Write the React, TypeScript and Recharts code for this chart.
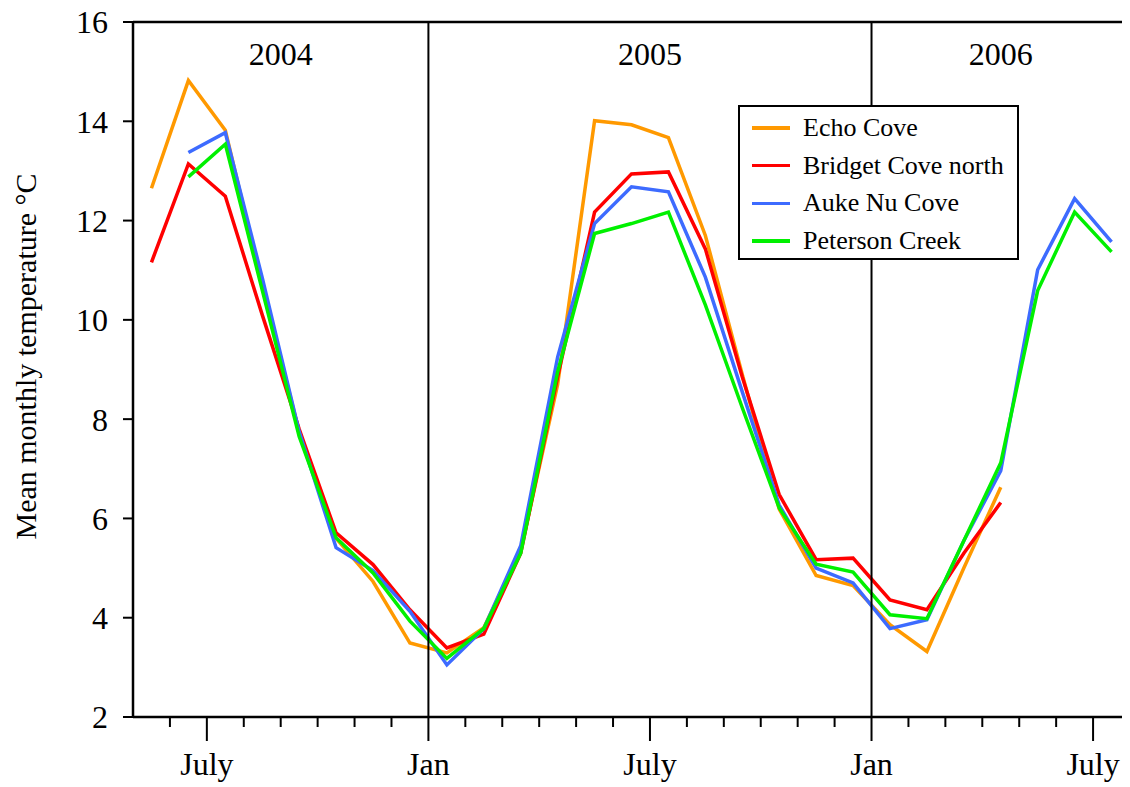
import React from 'react';
import {
  LineChart,
  Line,
  XAxis,
  YAxis,
  ReferenceLine,
  ReferenceArea,
  Legend,
} from 'recharts';

// Monthly means, May 2004 – July 2006 (one value per month, null = no record)
const MONTHS = [
  'May 2004', 'Jun 2004', 'Jul 2004', 'Aug 2004', 'Sep 2004', 'Oct 2004', 'Nov 2004', 'Dec 2004',
  'Jan 2005', 'Feb 2005', 'Mar 2005', 'Apr 2005', 'May 2005', 'Jun 2005', 'Jul 2005', 'Aug 2005',
  'Sep 2005', 'Oct 2005', 'Nov 2005', 'Dec 2005', 'Jan 2006', 'Feb 2006', 'Mar 2006', 'Apr 2006',
  'May 2006', 'Jun 2006', 'Jul 2006',
];

const ECHO_COVE = [
  12.65, 14.82, 13.82, 10.7, 7.75, 5.6, 4.73, 3.49,
  3.29, 3.8, 5.35, 8.7, 14.01, 13.93, 13.67, 11.7,
  8.9, 6.19, 4.85, 4.65, 3.86, 3.32, 5.0, 6.63,
  null, null, null,
];
const BRIDGET_COVE_NORTH = [
  11.16, 13.14, 12.49, 10.1, 7.8, 5.71, 5.07, 4.16,
  3.39, 3.67, 5.3, 8.85, 12.17, 12.94, 12.98, 11.43,
  8.85, 6.48, 5.17, 5.2, 4.36, 4.16, 5.3, 6.32,
  null, null, null,
];
const AUKE_NU_COVE = [
  null, 13.37, 13.77, 10.85, 7.75, 5.41, 4.95, 4.13,
  3.05, 3.78, 5.45, 9.25, 11.94, 12.68, 12.58, 10.86,
  8.55, 6.27, 5.0, 4.7, 3.78, 3.96, 5.55, 6.96,
  11.01, 12.44, 11.57,
];
const PETERSON_CREEK = [
  null, 12.88, 13.54, 10.6, 7.65, 5.61, 4.9, 3.93,
  3.18, 3.78, 5.3, 8.95, 11.74, 11.94, 12.17, 10.3,
  8.23, 6.21, 5.08, 4.92, 4.06, 3.98, 5.55, 7.12,
  10.59, 12.17, 11.37,
];

// Time axis: months counted from 1 Jan 2004; May 2004 starts at 4
const FIRST_MONTH = 4;
const X_DOMAIN: [number, number] = [4, 31];
const MONTH_TICKS = [5, 6, 7, 8, 9, 10, 11, 12, 13, 14, 15, 16, 17, 18, 19, 20, 21, 22, 23, 24, 25, 26, 27, 28, 29, 30];
const MAJOR_TICKS = [6, 12, 18, 24, 30];
const MAJOR_LABELS = ['July', 'Jan', 'July', 'Jan', 'July'];
const YEAR_BOUNDARIES = [12, 24];
const YEAR_LABELS = ['2004', '2005', '2006'];
const YEAR_SPANS: [number, number][] = [[4, 12], [12, 24], [24, 31]];

const Y_TICKS = [2, 4, 6, 8, 10, 12, 14, 16];

const SERIES = [
  { key: 'echo', name: 'Echo Cove', color: '#FF9900', values: ECHO_COVE },
  { key: 'bridget', name: 'Bridget Cove north', color: '#FF0000', values: BRIDGET_COVE_NORTH },
  { key: 'auke', name: 'Auke Nu Cove', color: '#3D6BFF', values: AUKE_NU_COVE },
  { key: 'peterson', name: 'Peterson Creek', color: '#00F000', values: PETERSON_CREEK },
];
const SERIES_ORDER = SERIES.map((s) => s.name);

// Each value is plotted at the middle of its month
const data = MONTHS.map((label, i) => {
  const row: Record<string, number | string | null> = { label, m: FIRST_MONTH + i + 0.5 };
  SERIES.forEach((s) => {
    row[s.key] = s.values[i];
  });
  return row;
});

const FONT = '"Liberation Serif", "Times New Roman", Times, serif';
const WIDTH = 1130;
const HEIGHT = 787;
const MARGIN = { top: 22, right: 0, bottom: 0, left: 8 };
const X_AXIS_HEIGHT = 70;
const PLOT_HEIGHT = HEIGHT - MARGIN.top - MARGIN.bottom - X_AXIS_HEIGHT;

const MonthTick = (props: any) => {
  const { x, y, payload } = props;
  const idx = MAJOR_TICKS.indexOf(payload.value);
  const major = idx >= 0;
  return (
    <g>
      <line x1={x} x2={x} y1={y} y2={y + (major ? 24 : 10)} stroke="#000" strokeWidth={2} />
      {major && (
        <text x={x} y={y + 58} textAnchor="middle" fontSize={32} fontFamily={FONT} fill="#000">
          {MAJOR_LABELS[idx]}
        </text>
      )}
    </g>
  );
};

const TITLE_X = 35.5;
const TITLE_Y = MARGIN.top + PLOT_HEIGHT / 2 - 13;

const YTitle = () => (
  <text
    x={TITLE_X}
    y={TITLE_Y}
    transform={`rotate(-90, ${TITLE_X}, ${TITLE_Y})`}
    textAnchor="middle"
    fontSize={30}
    fontFamily={FONT}
    fill="#000"
  >
    Mean monthly temperature °C
  </text>
);

const LegendBox = (props: any) => {
  const payload = [...(props.payload || [])].sort(
    (a: any, b: any) => SERIES_ORDER.indexOf(a.value) - SERIES_ORDER.indexOf(b.value),
  );
  return (
    <div
      style={{
        width: 281,
        height: 155,
        boxSizing: 'border-box',
        border: '2px solid #000',
        background: '#fff',
        position: 'relative',
        fontFamily: FONT,
        fontSize: 26,
        color: '#000',
      }}
    >
      {payload.map((entry: any, i: number) => (
        <div
          key={entry.value}
          style={{
            position: 'absolute',
            left: 0,
            top: 3 + i * 37.7,
            height: 36,
            display: 'flex',
            alignItems: 'center',
            whiteSpace: 'nowrap',
          }}
        >
          <span
            style={{
              display: 'inline-block',
              marginLeft: 12,
              width: 38,
              height: 3.5,
              background: entry.color,
            }}
          />
          <span style={{ marginLeft: 13, lineHeight: '36px' }}>{entry.value}</span>
        </div>
      ))}
    </div>
  );
};

export default function App() {
  return (
    <div style={{ margin: '-8px 0 0 -8px', width: WIDTH, height: HEIGHT }}>
      <LineChart width={WIDTH} height={HEIGHT} data={data} margin={MARGIN}>
        <XAxis
          dataKey="m"
          type="number"
          domain={X_DOMAIN}
          ticks={MONTH_TICKS}
          interval={0}
          height={X_AXIS_HEIGHT}
          tickSize={0}
          tickMargin={0}
          tickLine={false}
          tick={<MonthTick />}
          axisLine={{ stroke: '#000', strokeWidth: 2.5 }}
        />
        <YAxis
          type="number"
          domain={[2, 16]}
          ticks={Y_TICKS}
          interval={0}
          width={125}
          tickSize={10}
          tickMargin={15}
          tick={{ fill: '#000', fontSize: 32, fontFamily: FONT }}
          tickLine={{ stroke: '#000', strokeWidth: 2 }}
          axisLine={{ stroke: '#000', strokeWidth: 2.5 }}
          label={<YTitle />}
        />
        {YEAR_SPANS.map(([x1, x2], i) => (
          <ReferenceArea
            key={YEAR_LABELS[i]}
            x1={x1}
            x2={x2}
            fill="none"
            fillOpacity={0}
            strokeOpacity={0}
            label={{
              value: YEAR_LABELS[i],
              position: 'insideTop',
              offset: 20,
              fill: '#000',
              fontSize: 32,
              fontFamily: FONT,
            }}
          />
        ))}
        <ReferenceLine y={16} stroke="#000" strokeWidth={2.5} />
        {SERIES.map((s) => (
          <Line
            key={s.key}
            type="linear"
            dataKey={s.key}
            name={s.name}
            stroke={s.color}
            strokeWidth={3.5}
            dot={false}
            activeDot={false}
            isAnimationActive={false}
          />
        ))}
        {YEAR_BOUNDARIES.map((x) => (
          <ReferenceLine key={x} x={x} stroke="#000" strokeWidth={2} />
        ))}
        <Legend
          layout="horizontal"
          verticalAlign="middle"
          align="center"
          content={<LegendBox />}
          wrapperStyle={{ left: 738, top: 105, width: 281, height: 155 }}
        />
      </LineChart>
    </div>
  );
}
